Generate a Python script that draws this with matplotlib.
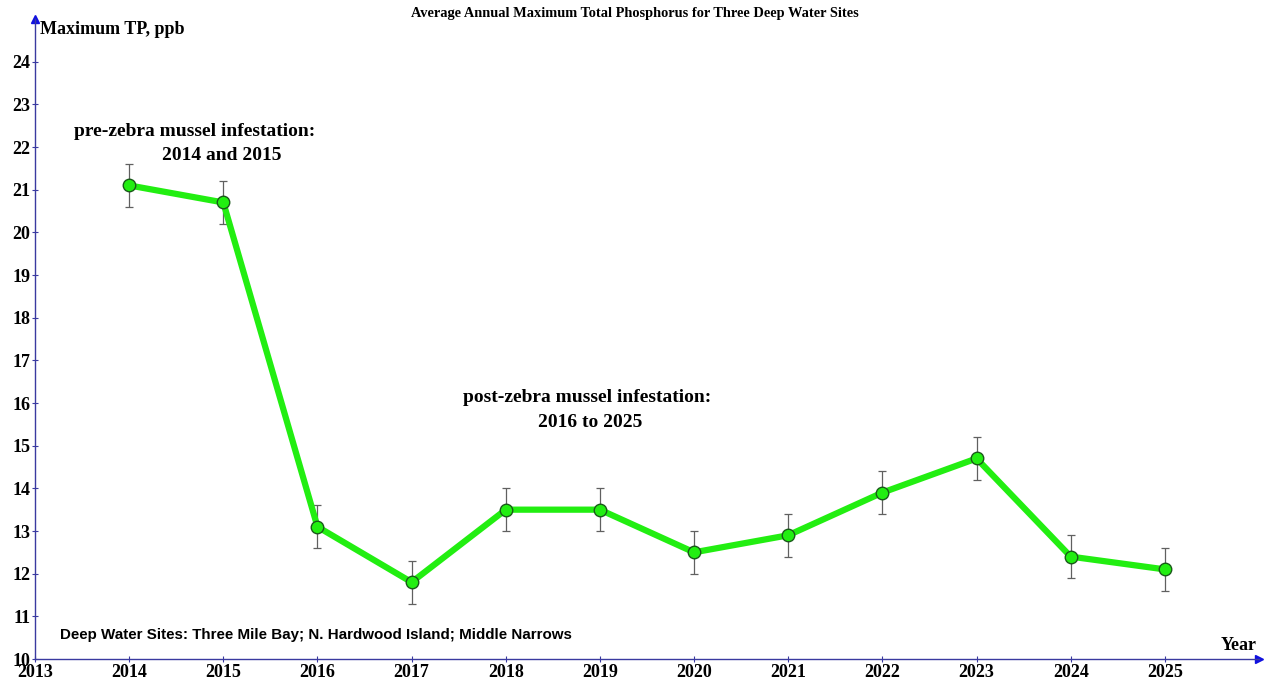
import matplotlib.pyplot as plt
import numpy as np

years = [2014, 2015, 2016, 2017, 2018, 2019, 2020, 2021, 2022, 2023, 2024, 2025]
max_tp = [21.1, 20.7, 13.1, 11.8, 13.5, 13.5, 12.5, 12.9, 13.9, 14.7, 12.4, 12.1]
tp_err = [0.5, 0.5, 0.5, 0.5, 0.5, 0.5, 0.5, 0.5, 0.5, 0.5, 0.5, 0.5]
x_ticks = list(range(2013, 2026))
y_ticks = list(range(10, 25))

serif = ['Liberation Serif', 'DejaVu Serif']
axis_col = '#3a3aa0'

fig = plt.figure(figsize=(12.64, 6.81), dpi=100)
ax = fig.add_axes([35 / 1264, 22 / 681, 1224 / 1264, 640 / 681])

ax.errorbar(years, max_tp, yerr=tp_err, fmt='none', ecolor='#606060',
            elinewidth=0.9, capsize=3, capthick=0.9, zorder=2)
ax.plot(years, max_tp, color='#22ee11', linewidth=4.5, zorder=3)
ax.plot(years, max_tp, 'o', markersize=9, markerfacecolor='#22ee11',
        markeredgecolor='#1a5a1a', markeredgewidth=1.0, zorder=4)

ax.set_xlim(2013, 2026)
ax.set_ylim(10, 25)
for side in ['top', 'right']:
    ax.spines[side].set_visible(False)
for side in ['left', 'bottom']:
    ax.spines[side].set_color(axis_col)
    ax.spines[side].set_linewidth(1.0)

ax.set_xticks(x_ticks)
ax.set_yticks(y_ticks)
ax.tick_params(axis='both', direction='inout', length=5, width=0.8, color=axis_col)
ax.tick_params(axis='x', pad=1)
ax.tick_params(axis='y', pad=1)
for lab in ax.get_xticklabels() + ax.get_yticklabels():
    lab.set_family(serif)
    lab.set_fontweight('bold')
    lab.set_fontsize(13)

# axis arrows
ax.plot(1, 0, '>', color='#1010e0', markersize=6, transform=ax.transAxes, clip_on=False)
ax.plot(0, 1, '^', color='#1010e0', markersize=6, transform=ax.transAxes, clip_on=False)

fig.text(635 / 1264, 1 - 14 / 681, 'Average Annual Maximum Total Phosphorus for Three Deep Water Sites',
         ha='center', va='center', fontsize=10.4, fontweight='bold', family=serif)
fig.text(40 / 1264, 1 - 29 / 681, 'Maximum TP, ppb', ha='left', va='center',
         fontsize=13, fontweight='bold', family=serif)
fig.text(1257 / 1264, 1 - 645 / 681, 'Year', ha='right', va='center',
         fontsize=13, fontweight='bold', family=serif)

note_kw = dict(ha='center', va='center', fontsize=14, fontweight='bold', family=serif)
fig.text(195 / 1264, 1 - 132 / 681, 'pre-zebra mussel infestation:', **note_kw)
fig.text(222 / 1264, 1 - 155 / 681, '2014 and 2015', **note_kw)
fig.text(587 / 1264, 1 - 398 / 681, 'post-zebra mussel infestation:', **note_kw)
fig.text(590 / 1264, 1 - 422 / 681, '2016 to 2025', **note_kw)

fig.text(60 / 1264, 1 - 635 / 681, 'Deep Water Sites: Three Mile Bay; N. Hardwood Island; Middle Narrows',
         ha='left', va='center', fontsize=10.9, fontweight='bold',
         family=['Liberation Sans', 'DejaVu Sans'])

fig.savefig('out.png', dpi=100)
